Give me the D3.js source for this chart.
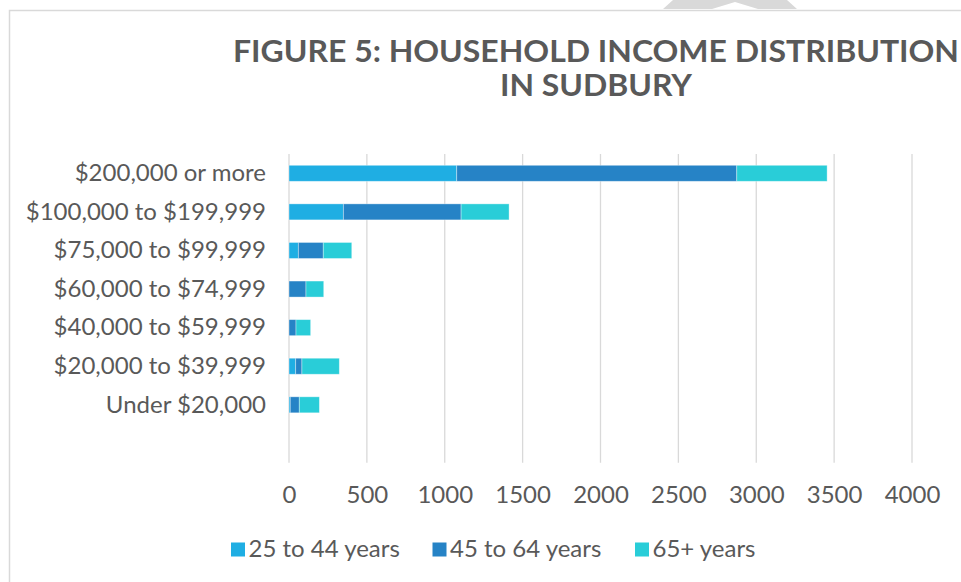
<!DOCTYPE html>
<html>
<head>
<meta charset="utf-8">
<script src="https://cdn.jsdelivr.net/npm/d3@7"></script>
<style>
  html, body { margin: 0; padding: 0; background: #fff; }
  svg { display: block; }
  text { font-family: Lato, "Open Sans", sans-serif; fill: #595959; }
</style>
</head>
<body>
<svg id="chart" width="961" height="582"></svg>
<script>
// ---- data ----
const categories = ["$200,000 or more", "$100,000 to $199,999", "$75,000 to $99,999",
  "$60,000 to $74,999", "$40,000 to $59,999", "$20,000 to $39,999", "Under $20,000", ""];
const seriesNames = ["25 to 44 years", "45 to 64 years", "65+ years"];
const age25to44 = [1077, 349, 60, 0, 0, 43, 8, 0];
const age45to64 = [1798, 756, 160, 109, 45, 40, 58, 0];
const age65plus = [580, 308, 183, 114, 94, 240, 129, 0];
const xTicks = [0, 500, 1000, 1500, 2000, 2500, 3000, 3500, 4000];
const colors = ["#1FAEE3", "#2683C6", "#29CDD8"];
const titleLines = ["FIGURE 5: HOUSEHOLD INCOME DISTRIBUTION", "IN SUDBURY"];

const svg = d3.select("#chart");

// watermark fragment above frame
svg.append("path")
  .attr("d", "M673,0 L787,0 L797,9 L758,9 L735,2 L712,9 L663,9 Z")
  .attr("fill", "#d9d9d9");

// chart frame
svg.append("rect").attr("x", 9.5).attr("y", 10.5).attr("width", 1000).attr("height", 1000)
  .attr("fill", "#fff").attr("stroke", "#d9d9d9").attr("stroke-width", 1.5);

// title
const t = svg.append("text").attr("text-anchor", "middle").style("font-weight", "bold")
  .style("font-size", "30px");
t.append("tspan").attr("x", 596).attr("y", 62).text(titleLines[0])
  .attr("textLength", 726).attr("lengthAdjust", "spacingAndGlyphs");
t.append("tspan").attr("x", 596).attr("y", 96).text(titleLines[1])
  .attr("textLength", 192).attr("lengthAdjust", "spacingAndGlyphs");

// scales
const x = d3.scaleLinear().domain([0, 4000]).range([289, 912]);
const y = d3.scaleBand().domain(categories).range([154, 462.7])
  .paddingInner(0.585).paddingOuter(0.2925);

// gridlines
svg.append("g").selectAll("line").data(xTicks).join("line")
  .attr("x1", d => x(d)).attr("x2", d => x(d))
  .attr("y1", 154).attr("y2", 462.7)
  .attr("stroke", "#d9d9d9").attr("stroke-width", 1.3);

// x axis labels
const xAxis = d3.axisBottom(x).tickValues(xTicks).tickSize(0).tickPadding(0).tickFormat(d3.format("d"));
const gx = svg.append("g").attr("transform", "translate(0,486)").call(xAxis);
gx.select(".domain").remove();
gx.selectAll("text").style("font-size", "24px").attr("fill", "#595959")
  .style("font-family", "Lato, sans-serif");

// y axis labels
const yAxis = d3.axisLeft(y).tickSize(0).tickPadding(0);
const gy = svg.append("g").attr("transform", "translate(266,0)").call(yAxis);
gy.select(".domain").remove();
gy.selectAll("text").style("font-size", "24px").attr("fill", "#595959")
  .style("font-family", "Lato, sans-serif");

// stacked bars
const rows = categories.map((c, i) => ({cat: c, s0: age25to44[i], s1: age45to64[i], s2: age65plus[i]}));
const stack = d3.stack().keys(["s0", "s1", "s2"])(rows);
svg.append("g").selectAll("g").data(stack).join("g")
  .attr("fill", (d, i) => colors[i])
  .selectAll("rect").data(d => d).join("rect")
  .attr("x", d => x(d[0]))
  .attr("y", d => y(d.data.cat))
  .attr("width", d => Math.max(0, x(d[1]) - x(d[0])))
  .attr("height", y.bandwidth())
  .attr("stroke", "#ffffff").attr("stroke-opacity", 0.45).attr("stroke-width", 0.8);

// legend
const legendX = [231, 432.5, 635];
const lg = svg.append("g").selectAll("g").data(seriesNames).join("g")
  .attr("transform", (d, i) => `translate(${legendX[i]},542.5)`);
lg.append("rect").attr("width", 14).attr("height", 14).attr("fill", (d, i) => colors[i]);
lg.append("text").attr("x", 17.5).attr("y", 14.5).style("font-size", "24px").text(d => d);
</script>
</body>
</html>
